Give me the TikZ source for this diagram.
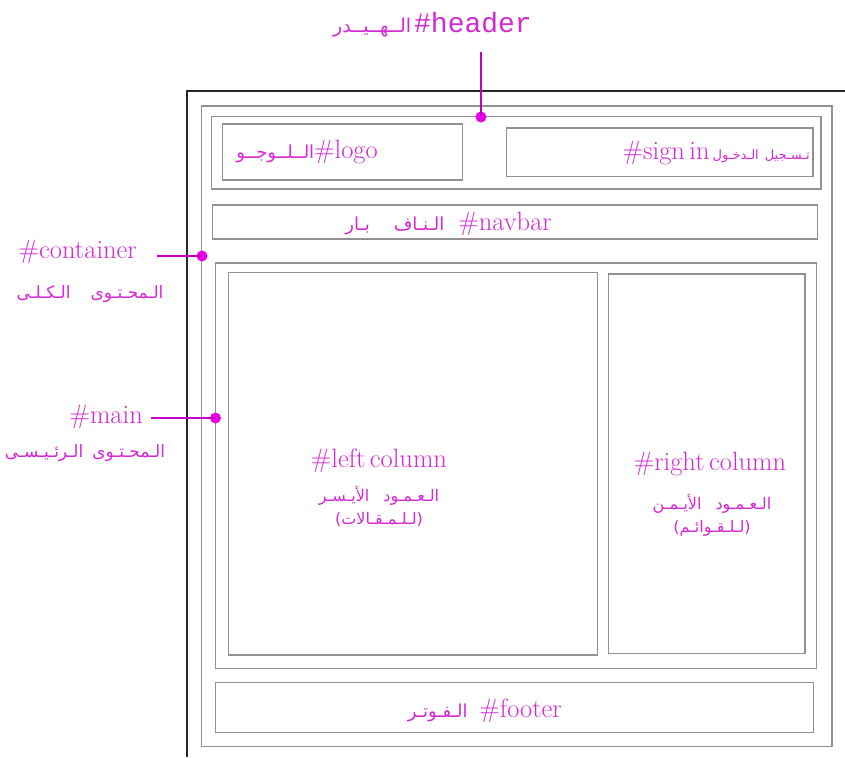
\documentclass[tikz,border=0pt]{standalone}
\usepackage{fontspec}
\newfontfamily\arabicfont[Script=Arabic]{DejaVu Sans}
\newfontfamily\hdrmono{Liberation Mono}
\TeXXeTstate=1
\usetikzlibrary{fit}
\definecolor{labmag}{RGB}{212,40,212}
\definecolor{dotmag}{RGB}{232,0,232}
\definecolor{boxgray}{RGB}{145,145,145}
\newcommand{\arS}[1]{\arabicfont\fontsize{#1}{#1}\selectfont}
\newcommand{\lattxt}[1]{{\fontsize{26.5}{28}\selectfont #1}}
\begin{document}
\begin{tikzpicture}[x=1pt,y=-1pt,
  box/.style={draw=boxgray, line width=1.3pt, inner sep=0pt},
  lbl/.style={text=labmag, inner sep=0pt, anchor=base},
  dotnode/.style={circle, fill=dotmag, inner sep=0pt, minimum size=11pt},
  conn/.style={draw=dotmag!85!black, line width=1.2pt}]
\useasboundingbox (0,0) rectangle (845,757);
% outer black frame (partial)
\draw[line width=1.5pt, black!85] (845,91) -- (187,91) -- (187,757);
% boxes
\node[box, fit={(201.5,106) (832,746.7)}] (container) {};
\node[box, fit={(211.5,116.5) (821,189)}] (header) {};
\node[box, fit={(222.5,124) (462.5,180)}] (logo) {};
\node[box, fit={(506.7,128) (813,176.7)}] (signin) {};
\node[box, fit={(212.7,205) (817.7,239)}] (navbar) {};
\node[box, fit={(215.7,263) (816.3,668.3)}] (main) {};
\node[box, fit={(228.3,272.7) (597.3,655)}] (leftcol) {};
\node[box, fit={(608.3,274) (805,653.5)}] (rightcol) {};
\node[box, fit={(215.7,682.5) (813.3,732.5)}] (footer) {};
% labels
\node[lbl, anchor=base east] (hdrlbl) at (532,33) {{\arS{19}\beginR الــهــيــدر\endR}\hspace{3pt}{\hdrmono\fontsize{28}{30}\selectfont\#header}};
\node[lbl, anchor=base east] (logolbl) at (378,158) {{\arS{18}\beginR الــلــوجــو\endR}\lattxt{\#logo}};
\node[lbl, anchor=base east] (signlbl) at (810,159) {\lattxt{\#sign\,in}\hspace{3pt}{\arS{13}\beginR تـسـجيل\hspace{6pt}الـدخـول\endR}};
\node[lbl, anchor=base east] (navlbl) at (552,230) {{\arS{18}\beginR الـنـاف\hspace{24pt}بـار\endR}\hspace{14pt}\lattxt{\#navbar}};
\node[lbl, anchor=base east] (contlbl) at (137,258) {\lattxt{\#container}};
\node[lbl] (contar) at (90,298) {{\arS{17}\beginR الـمحـتـوى\hspace{20pt}الـكـلـى\endR}};
\node[lbl, anchor=base east] (mainlbl) at (143,423) {\lattxt{\#main}};
\node[lbl] (mainar) at (85,457) {{\arS{17}\beginR الـمحـتـوى\hspace{9pt}الـرئـيـسـى\endR}};
\node[lbl] (leftlbl) at (379,467) {\lattxt{\#left\,column}};
\node[lbl] (leftar1) at (379,501) {{\arS{16}\beginR الـعـمـود\hspace{14pt}الأيـسـر\endR}};
\node[lbl] (leftar2) at (379,524) {{\arS{16}\beginR(لـلـمـقـالات)\endR}};
\node[lbl] (rightlbl) at (710,470) {\lattxt{\#right\,column}};
\node[lbl] (rightar1) at (712,509) {{\arS{16}\beginR الـعـمـود\hspace{14pt}الأيـمـن\endR}};
\node[lbl] (rightar2) at (712,532) {{\arS{16}\beginR(لـلـقـوائـم)\endR}};
\node[lbl, anchor=base east] (footlbl) at (562,717) {{\arS{18}\beginR الـفـوتـر\endR}\hspace{12pt}\lattxt{\#footer}};
% dots and connectors
\node[dotnode] (hdrdot) at (481,117) {};
\node[dotnode] (contdot) at (202,256) {};
\node[dotnode] (maindot) at (215.5,418) {};
\coordinate (hdrend) at (481,52);
\coordinate (contend) at (157,256);
\coordinate (mainend) at (151,418);
\draw[conn] (hdrend) -- (hdrdot.center);
\draw[conn] (contend) -- (contdot.center);
\draw[conn] (mainend) -- (maindot.center);
\end{tikzpicture}
\end{document}
